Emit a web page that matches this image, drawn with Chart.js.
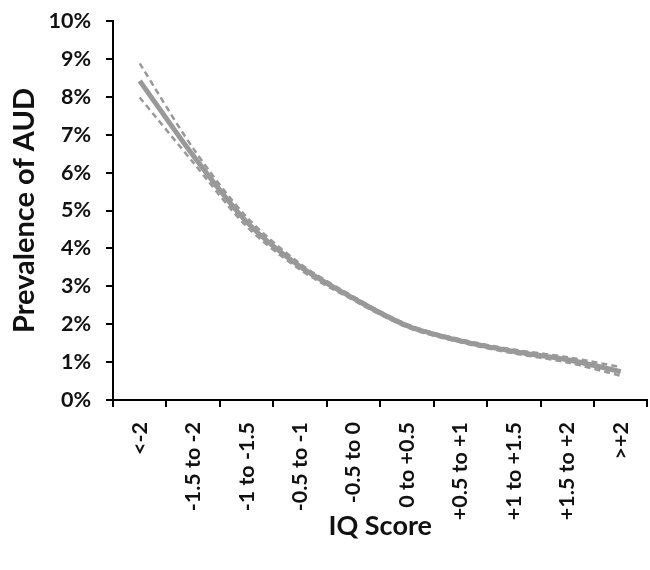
<!DOCTYPE html>
<html>
<head>
<meta charset="utf-8">
<script src="https://cdn.jsdelivr.net/npm/chart.js@4"></script>
<style>
  html, body { margin: 0; padding: 0; background: #fff; overflow: hidden; }
  #wrap { width: 662px; height: 570px; }
</style>
</head>
<body>
<div id="wrap"><canvas id="chartCanvas" width="662" height="570"></canvas></div>
<script>
const categories = ["<-2", "-1.5 to -2", "-1 to -1.5", "-0.5 to -1", "-0.5 to 0",
  "0 to +0.5", "+0.5 to +1", "+1 to +1.5", "+1.5 to +2", ">+2"];
const prevalence = [8.42, 6.45, 4.70, 3.52, 2.68, 1.96, 1.56, 1.28, 1.06, 0.75];
const upperCI = [8.88, 6.64, 4.83, 3.60, 2.73, 2.00, 1.60, 1.33, 1.13, 0.87];
const lowerCI = [7.98, 6.27, 4.58, 3.44, 2.63, 1.92, 1.52, 1.23, 0.99, 0.64];
const yTicks = [0, 1, 2, 3, 4, 5, 6, 7, 8, 9, 10];

const font = "Lato";
const ink = "#111";

function dashed(values) {
  return {
    data: values,
    borderColor: "#999",
    borderWidth: 2.5,
    borderDash: [6, 4],
    pointRadius: 0,
    tension: 0.3,
    fill: false
  };
}

const ctx = document.getElementById("chartCanvas").getContext("2d");
new Chart(ctx, {
  type: "line",
  data: {
    labels: categories,
    datasets: [
      dashed(upperCI),
      dashed(lowerCI),
      {
        data: prevalence,
        borderColor: "#999",
        borderWidth: 5,
        pointRadius: 0,
        tension: 0.3,
        fill: false
      }
    ]
  },
  options: {
    responsive: false,
    animation: false,
    layout: { padding: { left: 0, top: 21, right: 9, bottom: 0 } },
    plugins: { legend: { display: false }, tooltip: { enabled: false } },
    scales: {
      x: {
        offset: true,
        afterFit: axis => { axis.height = 170; },
        grid: { offset: true, drawOnChartArea: false, color: "#000", lineWidth: 2, tickLength: 7 },
        border: { color: "#000", width: 2 },
        ticks: { color: ink, font: { family: font, size: 21.5, weight: "bold" }, maxRotation: 90, minRotation: 90, padding: 15 },
        title: { display: true, text: "IQ Score", color: ink, font: { family: font, size: 27, weight: "bold" }, padding: { top: 0, bottom: 28 } }
      },
      y: {
        min: 0,
        max: 10,
        afterFit: axis => { axis.width = 113; axis.paddingTop = 21; axis.paddingBottom = 0; },
        afterBuildTicks: axis => { axis.ticks = yTicks.map(v => ({ value: v })); },
        grid: { drawOnChartArea: false, color: "#000", lineWidth: 2, tickLength: 7 },
        border: { color: "#000", width: 2 },
        ticks: { color: ink, font: { family: font, size: 21.5, weight: "bold" }, padding: 15, callback: v => v + "%" },
        title: { display: true, text: "Prevalence of AUD", color: ink, font: { family: font, size: 29, weight: "bold" }, padding: { top: 7 } }
      }
    }
  }
});
</script>
</body>
</html>
